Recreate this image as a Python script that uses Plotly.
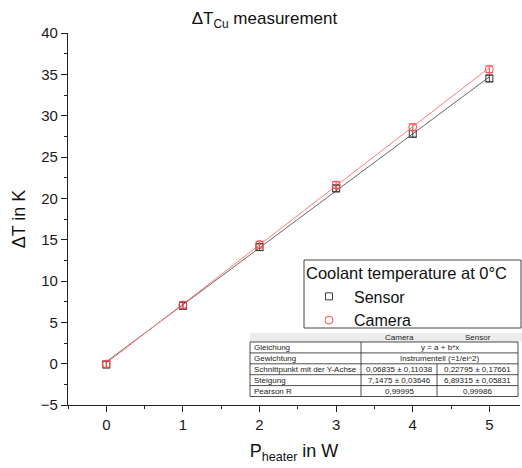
import plotly.graph_objects as go

# Heater power steps (W)
power = [0, 1, 2, 3, 4, 5]

# Temperature rise of the copper block (K)
dT_sensor = [-0.1, 7.0, 14.1, 21.2, 27.8, 34.5]
dT_camera = [-0.05, 7.1, 14.4, 21.6, 28.6, 35.6]
err_sensor = [0.4, 0.4, 0.4, 0.4, 0.4, 0.4]
err_camera = [0.4, 0.4, 0.4, 0.4, 0.4, 0.4]

# Linear fit parameters y = a + b*x
fit_camera = {"a": 0.06835, "b": 7.1475}
fit_sensor = {"a": 0.22795, "b": 6.89315}

# Fit-summary table
table_header = ["", "Camera", "Sensor"]
table_rows = [
    ["Gleichung", "y = a + b*x", None],
    ["Gewichtung", "Instrumentell (=1/ei^2)", None],
    ["Schnittpunkt mit der Y-Achse", "0,06835 ± 0,11038", "0,22795 ± 0,17661"],
    ["Steigung", "7,1475 ± 0,03646", "6,89315 ± 0,05831"],
    ["Pearson R", "0,99995", "0,99986"],
]

W, H = 522, 468
ML, MR, MT, MB = 68, 2, 33, 63
PW, PH = W - ML - MR, H - MT - MB

SENSOR_C = "#3a3a3a"
CAMERA_C = "#ff4d4d"
FONT = "Liberation Sans, Arial, sans-serif"


def px(x):
    return (x - ML) / PW


def py(y):
    return (H - MB - y) / PH


fig = go.Figure()

x_fit = [power[0], power[-1]]
fig.add_trace(go.Scatter(
    x=x_fit, y=[fit_sensor["a"] + fit_sensor["b"] * v for v in x_fit],
    mode="lines", line=dict(color="#666666", width=1), showlegend=False, hoverinfo="skip"))
fig.add_trace(go.Scatter(
    x=x_fit, y=[fit_camera["a"] + fit_camera["b"] * v for v in x_fit],
    mode="lines", line=dict(color="#ff7a7a", width=1), showlegend=False, hoverinfo="skip"))

fig.add_trace(go.Scatter(
    x=power, y=dT_sensor, mode="markers", name="Sensor",
    marker=dict(symbol="square-open", size=7, color=SENSOR_C, line=dict(width=1)),
    error_y=dict(type="data", array=err_sensor, color=SENSOR_C, thickness=1, width=4)))
fig.add_trace(go.Scatter(
    x=power, y=dT_camera, mode="markers", name="Camera",
    marker=dict(symbol="circle-open", size=8, color=CAMERA_C, line=dict(width=1)),
    error_y=dict(type="data", array=err_camera, color=CAMERA_C, thickness=1, width=4)))

shapes = []
annotations = []

# Legend frame
shapes.append(dict(type="rect", xref="paper", yref="paper",
                   x0=px(304), x1=px(521), y0=py(328), y1=py(260),
                   fillcolor="white", line=dict(color="#444", width=1), layer="above"))

# Table geometry (pixels)
tx0, tx1, tx2, tx3 = 250, 361, 437, 518
hy0, hy1 = 333, 342
row_h = 10.9

shapes.append(dict(type="rect", xref="paper", yref="paper",
                   x0=px(tx0), x1=px(W), y0=py(hy1), y1=py(hy0),
                   fillcolor="#ececec", line=dict(width=0), layer="above"))
tb = hy1 + row_h * len(table_rows)
shapes.append(dict(type="rect", xref="paper", yref="paper",
                   x0=px(tx0), x1=px(tx3), y0=py(tb), y1=py(hy1),
                   fillcolor="white", line=dict(color="#222", width=0.8), layer="above"))
for i in range(1, len(table_rows)):
    yy = hy1 + row_h * i
    shapes.append(dict(type="line", xref="paper", yref="paper",
                       x0=px(tx0), x1=px(tx3), y0=py(yy), y1=py(yy),
                       line=dict(color="#222", width=0.8), layer="above"))
shapes.append(dict(type="line", xref="paper", yref="paper",
                   x0=px(tx1), x1=px(tx1), y0=py(hy1), y1=py(tb),
                   line=dict(color="#222", width=0.8), layer="above"))
shapes.append(dict(type="line", xref="paper", yref="paper",
                   x0=px(tx2), x1=px(tx2), y0=py(hy1 + 2 * row_h), y1=py(tb),
                   line=dict(color="#222", width=0.8), layer="above"))

tfont = dict(family=FONT, size=8, color="#222")
for j, txt in enumerate(table_header):
    if not txt:
        continue
    cx = (tx1 + tx2) / 2 if j == 1 else (tx2 + tx3) / 2
    annotations.append(dict(text=txt, xref="paper", yref="paper", x=px(cx), y=py((hy0 + hy1) / 2),
                            showarrow=False, font=tfont, xanchor="center", yanchor="middle"))
for i, row in enumerate(table_rows):
    cy = py(hy1 + row_h * (i + 0.5))
    annotations.append(dict(text=row[0], xref="paper", yref="paper", x=px(tx0 + 2), y=cy,
                            showarrow=False, font=tfont, xanchor="left", yanchor="middle"))
    if row[2] is None:
        annotations.append(dict(text=row[1], xref="paper", yref="paper", x=px((tx1 + tx3) / 2), y=cy,
                                showarrow=False, font=tfont, xanchor="center", yanchor="middle"))
    else:
        annotations.append(dict(text=row[1], xref="paper", yref="paper", x=px((tx1 + tx2) / 2), y=cy,
                                showarrow=False, font=tfont, xanchor="center", yanchor="middle"))
        annotations.append(dict(text=row[2], xref="paper", yref="paper", x=px((tx2 + tx3) / 2), y=cy,
                                showarrow=False, font=tfont, xanchor="center", yanchor="middle"))

axis_common = dict(
    showline=True, linecolor="#222", linewidth=1.2, mirror=False,
    ticks="outside", ticklen=6, tickwidth=1.2, tickcolor="#222",
    showgrid=False, zeroline=False,
    tickfont=dict(family=FONT, size=15, color="#1a1a1a"),
)

fig.update_layout(
    width=W, height=H,
    margin=dict(l=ML, r=MR, t=MT, b=MB),
    paper_bgcolor="white", plot_bgcolor="white",
    font=dict(family=FONT, color="#111"),
    title=dict(text="ΔT<sub>Cu</sub> measurement", x=px(297), xanchor="center",
               y=1 - 18 / H, yanchor="middle", font=dict(family=FONT, size=17, color="#111")),
    xaxis=dict(range=[-0.5, 5.4], tickvals=power,
               minor=dict(dtick=0.5, ticks="outside", ticklen=3, tickcolor="#222", tickwidth=1),
               title=dict(text="P<sub>heater</sub> in W", font=dict(family=FONT, size=18), standoff=12),
               **axis_common),
    yaxis=dict(range=[-5, 40], dtick=5,
               minor=dict(dtick=2.5, ticks="outside", ticklen=3, tickcolor="#222", tickwidth=1),
               title=dict(text="ΔT in K", font=dict(family=FONT, size=18), standoff=10),
               **axis_common),
    legend=dict(x=px(304), y=py(258), xanchor="left", yanchor="top",
                bgcolor="rgba(0,0,0,0)", borderwidth=0,
                font=dict(family=FONT, size=16, color="#111"),
                title=dict(text="Coolant temperature at 0°C", font=dict(family=FONT, size=16.5)),
                tracegroupgap=0, itemsizing="trace", itemwidth=40),
    shapes=shapes,
    annotations=annotations,
)

fig.write_html("out.html")
